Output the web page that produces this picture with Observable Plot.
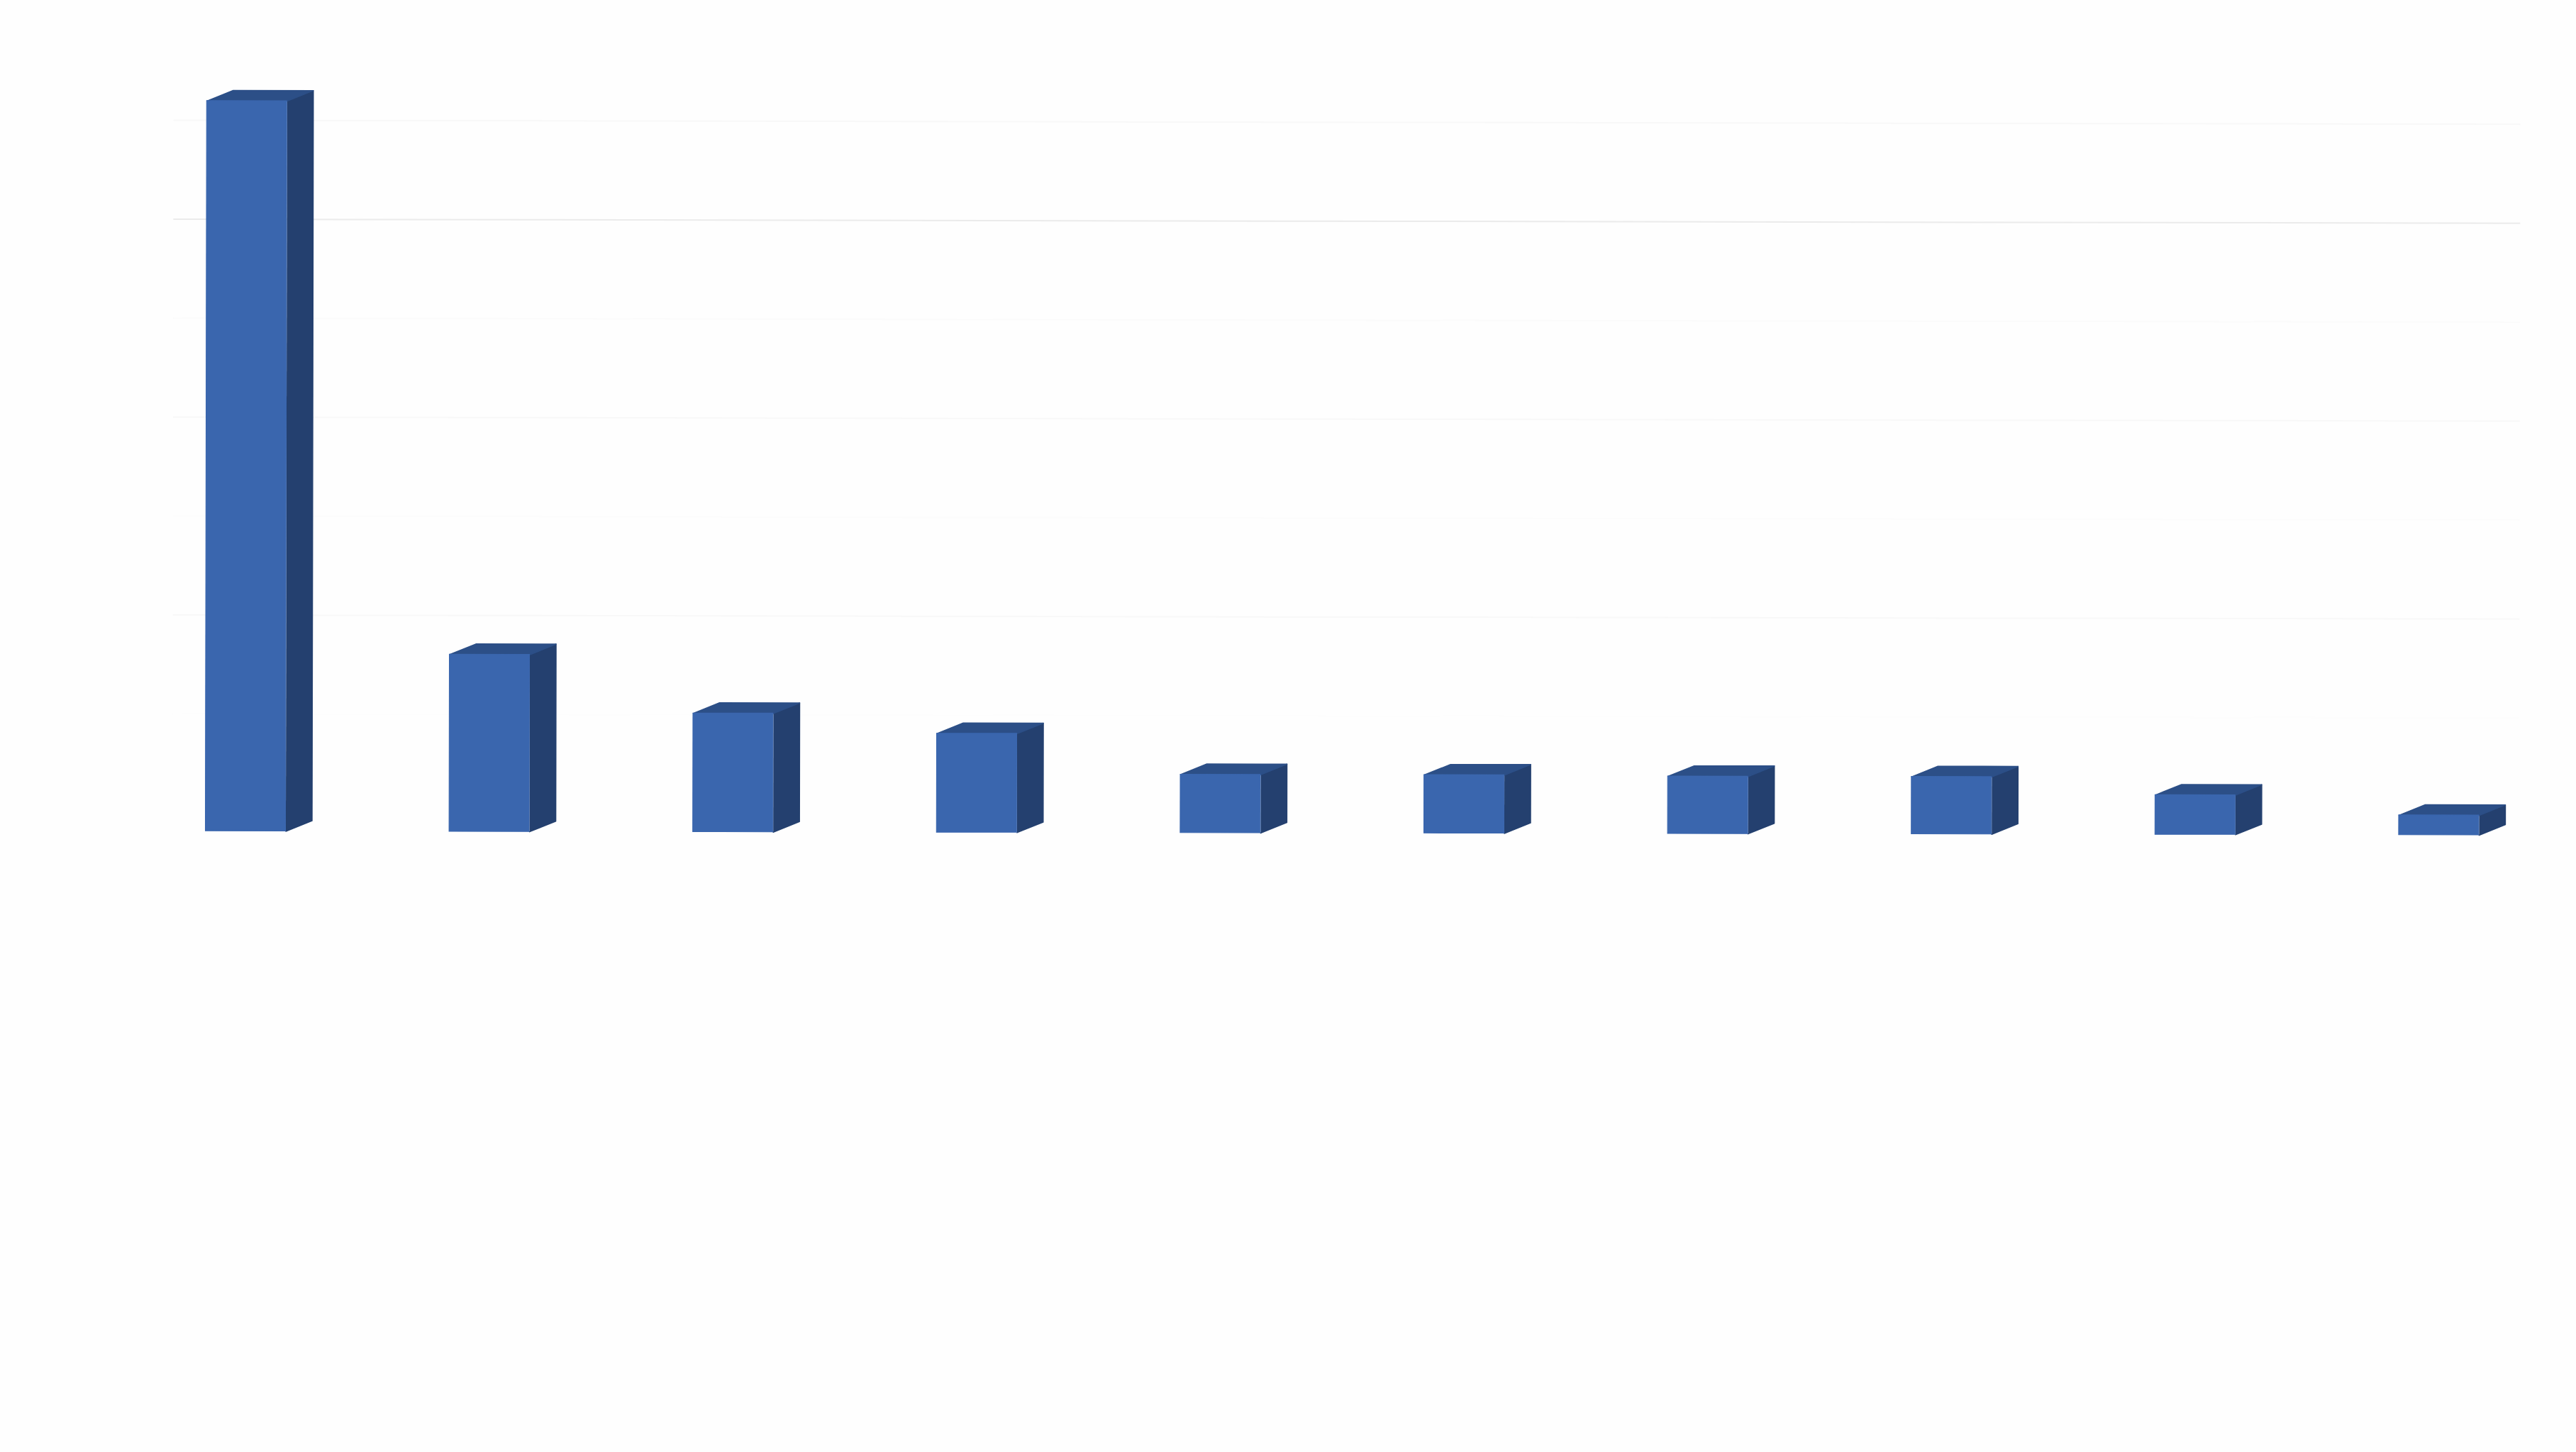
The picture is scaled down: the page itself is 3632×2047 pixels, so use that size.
<!DOCTYPE html>
<html>
<head>
<meta charset="utf-8">
<style>
html,body{margin:0;padding:0;background:#fefefe;overflow:hidden;width:3632px;height:2047px}
#c svg{display:block;max-width:none;transform:rotate(0.1deg);transform-origin:50% 57%}
</style>
<script src="https://cdn.jsdelivr.net/npm/d3@7"></script>
<script src="https://cdn.jsdelivr.net/npm/@observablehq/plot@0.6"></script>
</head>
<body>
<div id="c"></div>
<script>
const categories = [0,1,2,3,4,5,6,7,8,9];
const values = [7380,1790,1200,1000,590,590,580,580,400,200];
const gridValues = [1000,2000,3000,4000,5000,6000,7000];
const gridColors = ["#fdfdfd","#f8f8f8","#fcfcfc","#f8f8f8","#fbfbfb","#ebebeb","#f8f8f8"];
const colors = {front:"#3a66ae", side:"#24406f", top:"#2c4f87"};

// 3D projection of the bars, in scale units
const halfWidth = 0.1644, depthX = 0.1077, depthY = 107, gridOffset = 185;

const bars = categories.map((c,i)=>({c, v:values[i]}));
const side = bars.flatMap(b=>[
  {id:b.c,x:b.c+halfWidth,y:0},
  {id:b.c,x:b.c+halfWidth+depthX,y:depthY},
  {id:b.c,x:b.c+halfWidth+depthX,y:b.v+depthY},
  {id:b.c,x:b.c+halfWidth,y:b.v}
]);
const top_ = bars.flatMap(b=>[
  {id:b.c,x:b.c-halfWidth,y:b.v},
  {id:b.c,x:b.c-halfWidth+depthX,y:b.v+depthY},
  {id:b.c,x:b.c+halfWidth+depthX,y:b.v+depthY},
  {id:b.c,x:b.c+halfWidth,y:b.v}
]);
const grid = gridValues.map((v,i)=>({v:v+gridOffset,color:gridColors[i]}));

const chart = Plot.plot({
  width:3632, height:2047,
  marginLeft:0, marginRight:0, marginTop:0, marginBottom:0,
  style:{background:"#fefefe"},
  x:{domain:[-1.0084,9.562], range:[-0.5,3631.5], axis:null},
  y:{domain:[0,8415.8], range:[1174,0], axis:null},
  marks:[
    Plot.ruleY(grid,{y:"v",x1:-0.3,x2:9.33,stroke:"color",strokeWidth:2}),
    Plot.line(side,{x:"x",y:"y",z:"id",fill:colors.side,stroke:colors.side,strokeWidth:1.5,curve:"linear"}),
    Plot.line(top_,{x:"x",y:"y",z:"id",fill:colors.top,stroke:colors.top,strokeWidth:1.5,curve:"linear"}),
    Plot.rect(bars,{x1:d=>d.c-halfWidth,x2:d=>d.c+halfWidth,y1:0,y2:"v",fill:colors.front,stroke:colors.front,strokeWidth:1,inset:0})
  ]
});
document.getElementById("c").appendChild(chart);
</script>
</body>
</html>
